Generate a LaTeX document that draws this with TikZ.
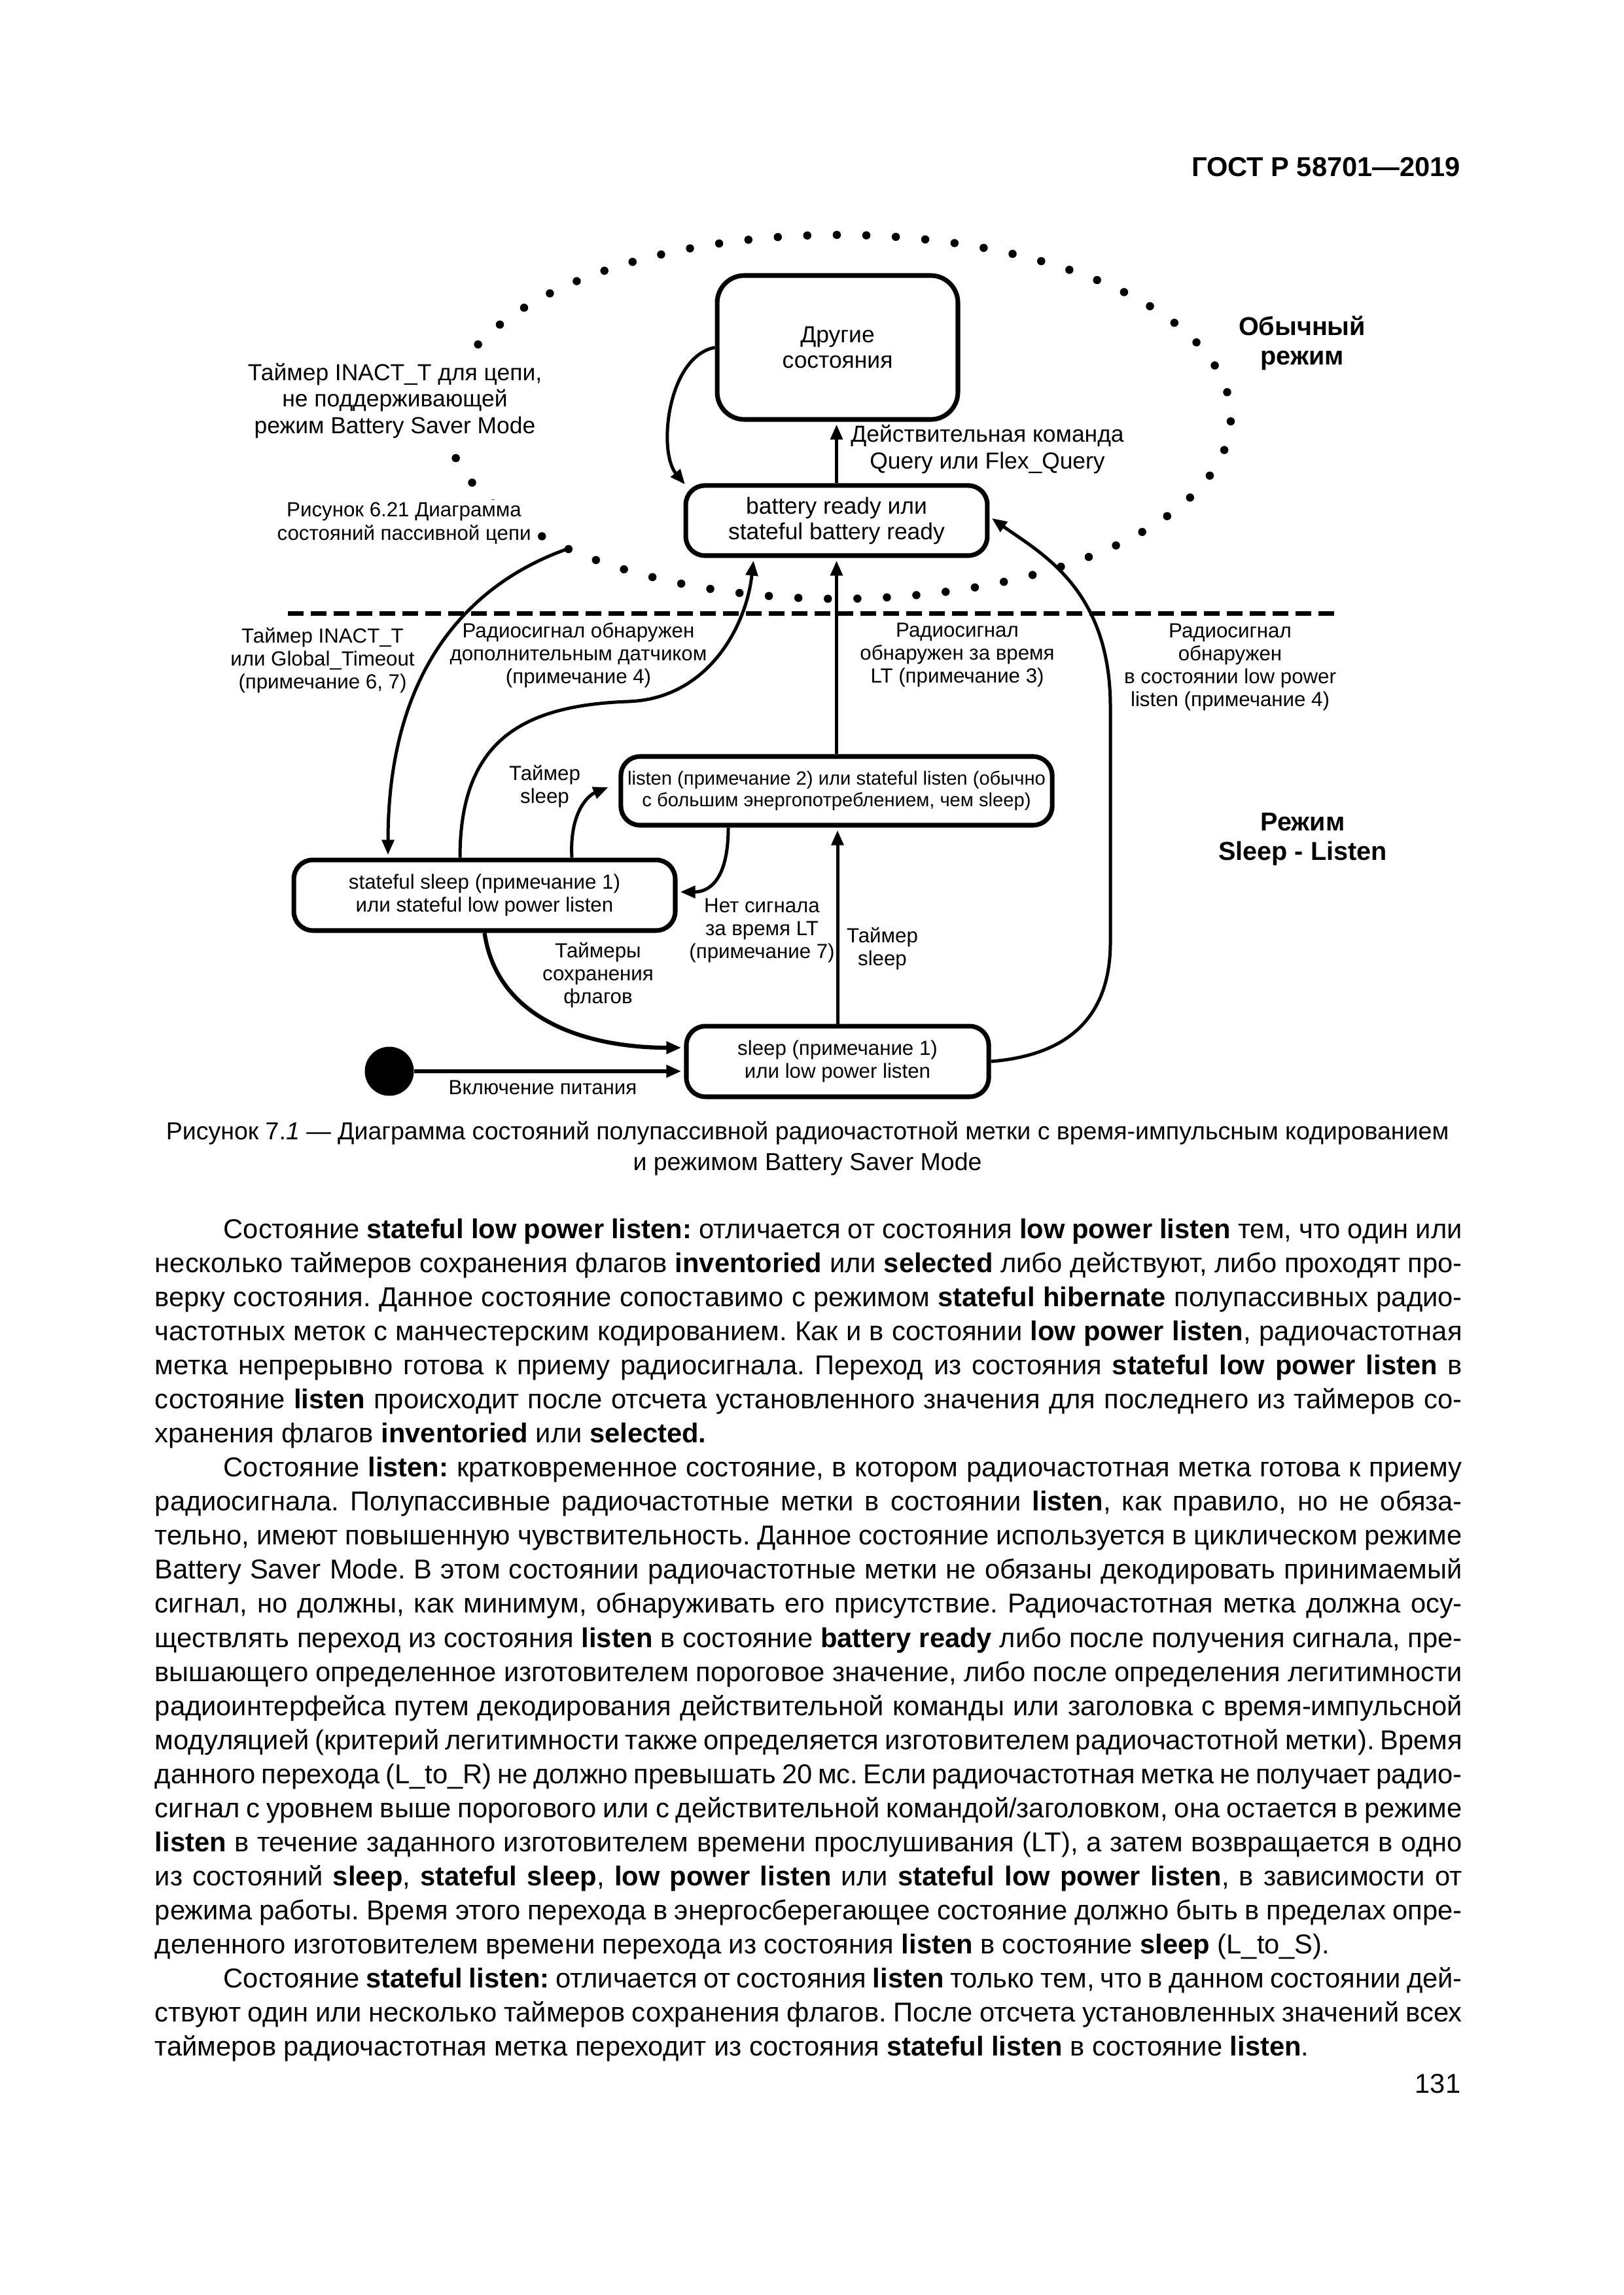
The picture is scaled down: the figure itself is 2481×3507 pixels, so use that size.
\documentclass[tikz,border=0pt]{standalone}
\usepackage{fontspec}
\setmainfont{Liberation Sans}
\usepackage{tikz}
\usetikzlibrary{arrows.meta, positioning, calc}
\frenchspacing

\newlength{\bodywd}\setlength{\bodywd}{479.5pt}
\newcommand{\jline}[1]{\hbox to \bodywd{#1}}
\newcommand{\lastline}[1]{\hbox{#1}}
\newcommand{\ind}{\hskip 25.2pt}

\begin{document}
\begin{tikzpicture}[x=0.24pt,y=-0.24pt,>={Triangle[length=5.5pt,width=4.4pt]},
        statebox/.style={draw,rounded corners=7pt,line width=1.7pt,inner sep=0pt,align=center,
            font=\fontsize{7.5}{8.3}\selectfont},
        bigstate/.style={statebox,font=\fontsize{8.5}{9.4}\selectfont},
        lbl/.style={align=center,inner sep=1pt,font=\fontsize{7.5}{8.4}\selectfont},
        biglbl/.style={lbl,font=\fontsize{8.5}{9.7}\selectfont},
        modelbl/.style={align=center,inner sep=0pt,font=\bfseries\fontsize{9.5}{10.8}\selectfont},
        trans/.style={->,shorten >=1pt,line width=1.2pt},
        dotring/.style={line width=3pt,line cap=round,dash pattern=on 0pt off 10.83pt},
        modesep/.style={line width=1.45pt,dash pattern=on 5.8pt off 2.6pt}]

        \useasboundingbox (0,0) rectangle (2481,3507);

        % header
        \node[anchor=base east,inner sep=0pt,font=\bfseries\fontsize{10}{12}\selectfont] (gost) at (2233,270) {ГОСТ Р 58701---2019};

        % mode borders: the dotted ring leaves a gap for the note on its left side
        \coordinate (ringc) at (1281,637);
        \draw[dotring] ($(ringc)+(166.9:600 and 278)$) arc [start angle=166.9, end angle=-157.4, x radius=600, y radius=278];
        \draw[modesep] (440,937.5) -- (2044,937.5);

        % states
        \node[bigstate,minimum width=88.3pt,minimum height=52.8pt,rounded corners=10pt] (other) at (1280,531) {Другие\\состояния};
        \node[bigstate,minimum width=110.6pt,minimum height=25.7pt] (ready) at (1278.5,795.5) {battery ready или\\stateful battery ready};
        \node[statebox,minimum width=158.2pt,minimum height=25.2pt,font=\fontsize{7}{8}\selectfont] (listen) at (1278.5,1208.5)
            {listen (примечание 2) или stateful listen (обычно\\с большим энергопотреблением, чем sleep)};
        \node[statebox,minimum width=139.9pt,minimum height=25.9pt] (ssleep) at (740.5,1368) {stateful sleep (примечание 1)\\или stateful low power listen};
        \node[statebox,minimum width=110.9pt,minimum height=25.9pt] (sleep) at (1280,1622) {sleep (примечание 1)\\или low power listen};
        \node[circle,fill,inner sep=0pt,minimum size=18pt] (init) at (595,1637) {};

        % notes on the dotted border
        \node[biglbl] (inactnote) at (603.5,612.5) {Таймер INACT\_T для цепи,\\не поддерживающей\\режим Battery Saver Mode};
        \node[lbl,fill=white,font=\fontsize{7.5}{8.6}\selectfont] (passnote) at (617.5,800) {Рисунок 6.21 Диаграмма\\состояний пассивной цепи};
        \node[modelbl] (normalmode) at (1990,524) {Обычный\\режим};
        \node[modelbl] (sleepmode) at (1991,1282) {Режим\\Sleep - Listen};

        % transitions
        \coordinate (inact) at (869.5,838);
        \draw[trans] (other.west) .. controls (1020,545) and (1005,690) .. ($(ready.north west)+(5,5)$);
        \draw[trans] (ready.north) -- (ready.north |- other.south);
        \draw[trans] (inact) .. controls (720,890) and (593,1020) .. ($(ssleep.north)+(-147.5,0)$);
        \draw[trans] ($(ssleep.north)+(-37.5,0)$) .. controls (703,1130) and (800,1078) .. (960,1072)
                .. controls (1080,1068) and (1140,960) .. ($(ready.south)+(-126.5,0)$);
        \draw[trans] (listen.north) -- (listen.north |- ready.south);
        \draw[trans] (sleep.east) .. controls (1600,1615) and (1697,1580) .. (1697,1440) -- (1697,1080)
                .. controls (1697,900) and (1590,845) .. ($(ready.east)+(0,-6)$);
        \draw[trans] ($(ssleep.north)+(133.5,0)$) .. controls (870,1240) and (900,1215) .. ($(listen.west)+(-12,-7)$);
        \draw[trans] ($(listen.south)+(-165.5,0)$) .. controls (1113,1350) and (1080,1363) .. ($(ssleep.east)+(0,-5)$);
        \draw[trans] (sleep.north) -- (sleep.north |- listen.south);
        \draw[trans,line width=1.5pt] (ssleep.south) .. controls (760,1560) and (900,1601) .. ($(sleep.west)+(0,-21)$);
        \draw[trans,line width=1.5pt] (init) -- (init -| sleep.west);

        % transition labels
        \node[biglbl] (querynote) at (1509,686.5) {Действительная команда\\Query или Flex\_Query};
        \node[lbl] (timeoutnote) at (493,1009.5) {Таймер INACT\_T\\или Global\_Timeout\\(примечание 6, 7)};
        \node[lbl] (sensornote) at (884,1001) {Радиосигнал обнаружен\\дополнительным датчиком\\(примечание 4)};
        \node[lbl] (ltnote) at (1463,1001) {Радиосигнал\\обнаружен за время\\LT (примечание 3)};
        \node[lbl] (lplnote) at (1880,1019) {Радиосигнал\\обнаружен\\в состоянии low power\\listen (примечание 4)};
        \node[lbl] (sleepnote) at (832.5,1201.5) {Таймер\\sleep};
        \node[lbl] (nosignote) at (1164.5,1422) {Нет сигнала\\за время LT\\(примечание 7)};
        \node[lbl] (sleepnotetwo) at (1348.5,1450) {Таймер\\sleep};
        \node[lbl] (flagnote) at (914,1490) {Таймеры\\сохранения\\флагов};
        \node[lbl] (powernote) at (829.5,1662) {Включение питания};

        % caption
        \node[align=center,inner sep=0pt,font=\fontsize{9}{11.2}\selectfont] (caption) at (1234,1755)
            {Рисунок 7.\textit{1} --- Диаграмма состояний полупассивной радиочастотной метки с время-импульсным кодированием\\и режимом Battery Saver Mode};

        % body text
        \node[anchor=base west,inner sep=0pt,font=\fontsize{10}{12.5}\selectfont] (body) at (236,1892) {\vtop{\baselineskip=12.5pt
            \jline{\ind Состояние \textbf{stateful low power listen:} отличается от состояния \textbf{low power listen} тем, что один или}
            \jline{несколько таймеров сохранения флагов \textbf{inventoried} или \textbf{selected} либо действуют, либо проходят про-}
            \jline{верку состояния. Данное состояние сопоставимо с режимом \textbf{stateful hibernate} полупассивных радио-}
            \jline{частотных меток с манчестерским кодированием. Как и в состоянии \textbf{low power listen}, радиочастотная}
            \jline{метка непрерывно готова к приему радиосигнала. Переход из состояния \textbf{stateful low power listen} в}
            \jline{состояние \textbf{listen} происходит после отсчета установленного значения для последнего из таймеров со-}
            \lastline{хранения флагов \textbf{inventoried} или \textbf{selected.}}
            \jline{\ind Состояние \textbf{listen:} кратковременное состояние, в котором радиочастотная метка готова к приему}
            \jline{радиосигнала. Полупассивные радиочастотные метки в состоянии \textbf{listen}, как правило, но не обяза-}
            \jline{тельно, имеют повышенную чувствительность. Данное состояние используется в циклическом режиме}
            \jline{Battery Saver Mode. В этом состоянии радиочастотные метки не обязаны декодировать принимаемый}
            \jline{сигнал, но должны, как минимум, обнаруживать его присутствие. Радиочастотная метка должна осу-}
            \jline{ществлять переход из состояния \textbf{listen} в состояние \textbf{battery ready} либо после получения сигнала, пре-}
            \jline{вышающего определенное изготовителем пороговое значение, либо после определения легитимности}
            \jline{радиоинтерфейса путем декодирования действительной команды или заголовка с время-импульсной}
            \jline{модуляцией (критерий легитимности также определяется изготовителем радиочастотной метки). Время}
            \jline{данного перехода (L\_to\_R) не должно превышать 20 мс. Если радиочастотная метка не получает радио-}
            \jline{сигнал с уровнем выше порогового или с действительной командой/заголовком, она остается в режиме}
            \jline{\textbf{listen} в течение заданного изготовителем времени прослушивания (LT), а затем возвращается в одно}
            \jline{из состояний \textbf{sleep}, \textbf{stateful sleep}, \textbf{low power listen} или \textbf{stateful low power listen}, в зависимости от}
            \jline{режима работы. Время этого перехода в энергосберегающее состояние должно быть в пределах опре-}
            \lastline{деленного изготовителем времени перехода из состояния \textbf{listen} в состояние \textbf{sleep} (L\_to\_S).}
            \jline{\ind Состояние \textbf{stateful listen:} отличается от состояния \textbf{listen} только тем, что в данном состоянии дей-}
            \jline{ствуют один или несколько таймеров сохранения флагов. После отсчета установленных значений всех}
            \lastline{таймеров радиочастотная метка переходит из состояния \textbf{stateful listen} в состояние \textbf{listen}.}}};

        % page number
        \node[anchor=base east,inner sep=0pt,font=\fontsize{10}{12}\selectfont] (pagenum) at (2233,3198) {131};
\end{tikzpicture}
\end{document}
